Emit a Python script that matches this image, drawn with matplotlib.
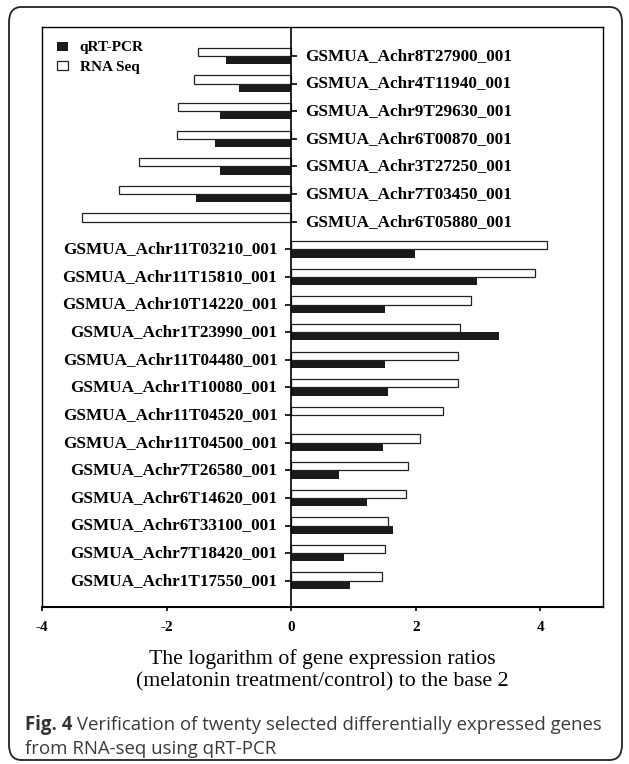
import numpy as np
import matplotlib
matplotlib.use('Agg')
import matplotlib.pyplot as plt
from matplotlib.patches import FancyBboxPatch

# gene names, top to bottom
genes = ['GSMUA_Achr8T27900_001', 'GSMUA_Achr4T11940_001', 'GSMUA_Achr9T29630_001',
         'GSMUA_Achr6T00870_001', 'GSMUA_Achr3T27250_001', 'GSMUA_Achr7T03450_001',
         'GSMUA_Achr6T05880_001', 'GSMUA_Achr11T03210_001', 'GSMUA_Achr11T15810_001',
         'GSMUA_Achr10T14220_001', 'GSMUA_Achr1T23990_001', 'GSMUA_Achr11T04480_001',
         'GSMUA_Achr1T10080_001', 'GSMUA_Achr11T04520_001', 'GSMUA_Achr11T04500_001',
         'GSMUA_Achr7T26580_001', 'GSMUA_Achr6T14620_001', 'GSMUA_Achr6T33100_001',
         'GSMUA_Achr7T18420_001', 'GSMUA_Achr1T17550_001']

# log2 ratios
rna_seq = [-1.50, -1.56, -1.82, -1.83, -2.45, -2.77, -3.36, 4.10, 3.91, 2.88,
           2.71, 2.67, 2.67, 2.44, 2.06, 1.87, 1.85, 1.55, 1.51, 1.45]
qrt_pcr = [-1.04, -0.84, -1.14, -1.22, -1.15, -1.53, 0.0, 1.98, 2.99, 1.50,
           3.33, 1.50, 1.56, 0.0, 1.47, 0.77, 1.22, 1.63, 0.85, 0.95]

xticks = [-4, -2, 0, 2, 4]

plt.rcParams['font.family'] = ['Liberation Serif', 'DejaVu Serif']
plt.rcParams['axes.unicode_minus'] = False

fig = plt.figure(figsize=(6.29, 7.64), dpi=100)
ax = fig.add_axes([0.0668, 0.2055, 0.8914, 0.7592])

pos = np.arange(len(genes))
h = 0.3
ax.barh(pos + h/2, qrt_pcr, height=h, color='#1a1a1a', edgecolor='none', label='qRT-PCR')
ax.barh(pos - h/2, rna_seq, height=h, color='white', edgecolor='#222222', linewidth=0.9, label='RNA Seq')

ax.set_xlim(-4, 5)
ax.set_ylim(19.95, -1.05)

# zero line acts as the y axis
ax.axvline(0, color='black', lw=1.2, zorder=3)
ax.set_yticks([])

rna = np.array(rna_seq)
neg = rna < 0
ax.plot(np.zeros(neg.sum()), pos[neg], ls='none', marker=1, ms=4, mew=1.2, color='black', zorder=4)
ax.plot(np.zeros((~neg).sum()), pos[~neg], ls='none', marker=0, ms=4, mew=1.2, color='black', zorder=4)

for i, g in enumerate(genes):
    if neg[i]:
        ax.annotate(g, (0, pos[i]), xytext=(10, 0), textcoords='offset points',
                    ha='left', va='center', fontsize=12.3, fontweight='bold')
    else:
        ax.annotate(g, (0, pos[i]), xytext=(-10, 0), textcoords='offset points',
                    ha='right', va='center', fontsize=12.3, fontweight='bold')

ax.set_xticks(xticks)
ax.set_xticklabels([str(t) for t in xticks], fontsize=11, fontweight='bold')
ax.tick_params(axis='x', direction='out', length=3, width=1.2, pad=7)
for s in ax.spines.values():
    s.set_linewidth(1.0)
ax.spines['bottom'].set_linewidth(1.5)

ax.set_xlabel('The logarithm of gene expression ratios\n(melatonin treatment/control) to the base 2',
              fontsize=15.7, linespacing=1.25, labelpad=11)

leg = ax.legend(loc='upper left', bbox_to_anchor=(0.0, 1.0), frameon=False,
                prop={'size': 11, 'weight': 'bold'}, handlelength=0.72, handleheight=0.52,
                handletextpad=0.8, labelspacing=0.42, borderaxespad=0.55)

# outer frame of the figure panel
frame = FancyBboxPatch((9/629, 4/764), 613/629, 753/764, transform=fig.transFigure,
                       boxstyle='round,pad=0,rounding_size=0.02', fill=False,
                       edgecolor='#222222', lw=1.3)
fig.patches.append(frame)

# caption
fig.canvas.draw()
r = fig.canvas.get_renderer()
t1 = fig.text(25/629, 1 - 725/764, 'Fig. 4', family='Open Sans', fontweight='bold',
              fontsize=13.4, color='#333333', va='center')
bb = t1.get_window_extent(r)
fig.text(bb.x1/fig.bbox.width, 1 - 725/764,
         ' Verification of twenty selected differentially expressed genes',
         family='Open Sans', fontsize=13.4, color='#3a3a3a', va='center')
fig.text(25/629, 1 - 749/764, 'from RNA-seq using qRT-PCR', family='Open Sans',
         fontsize=13.4, color='#3a3a3a', va='center')

plt.savefig('out.png', dpi=100)
